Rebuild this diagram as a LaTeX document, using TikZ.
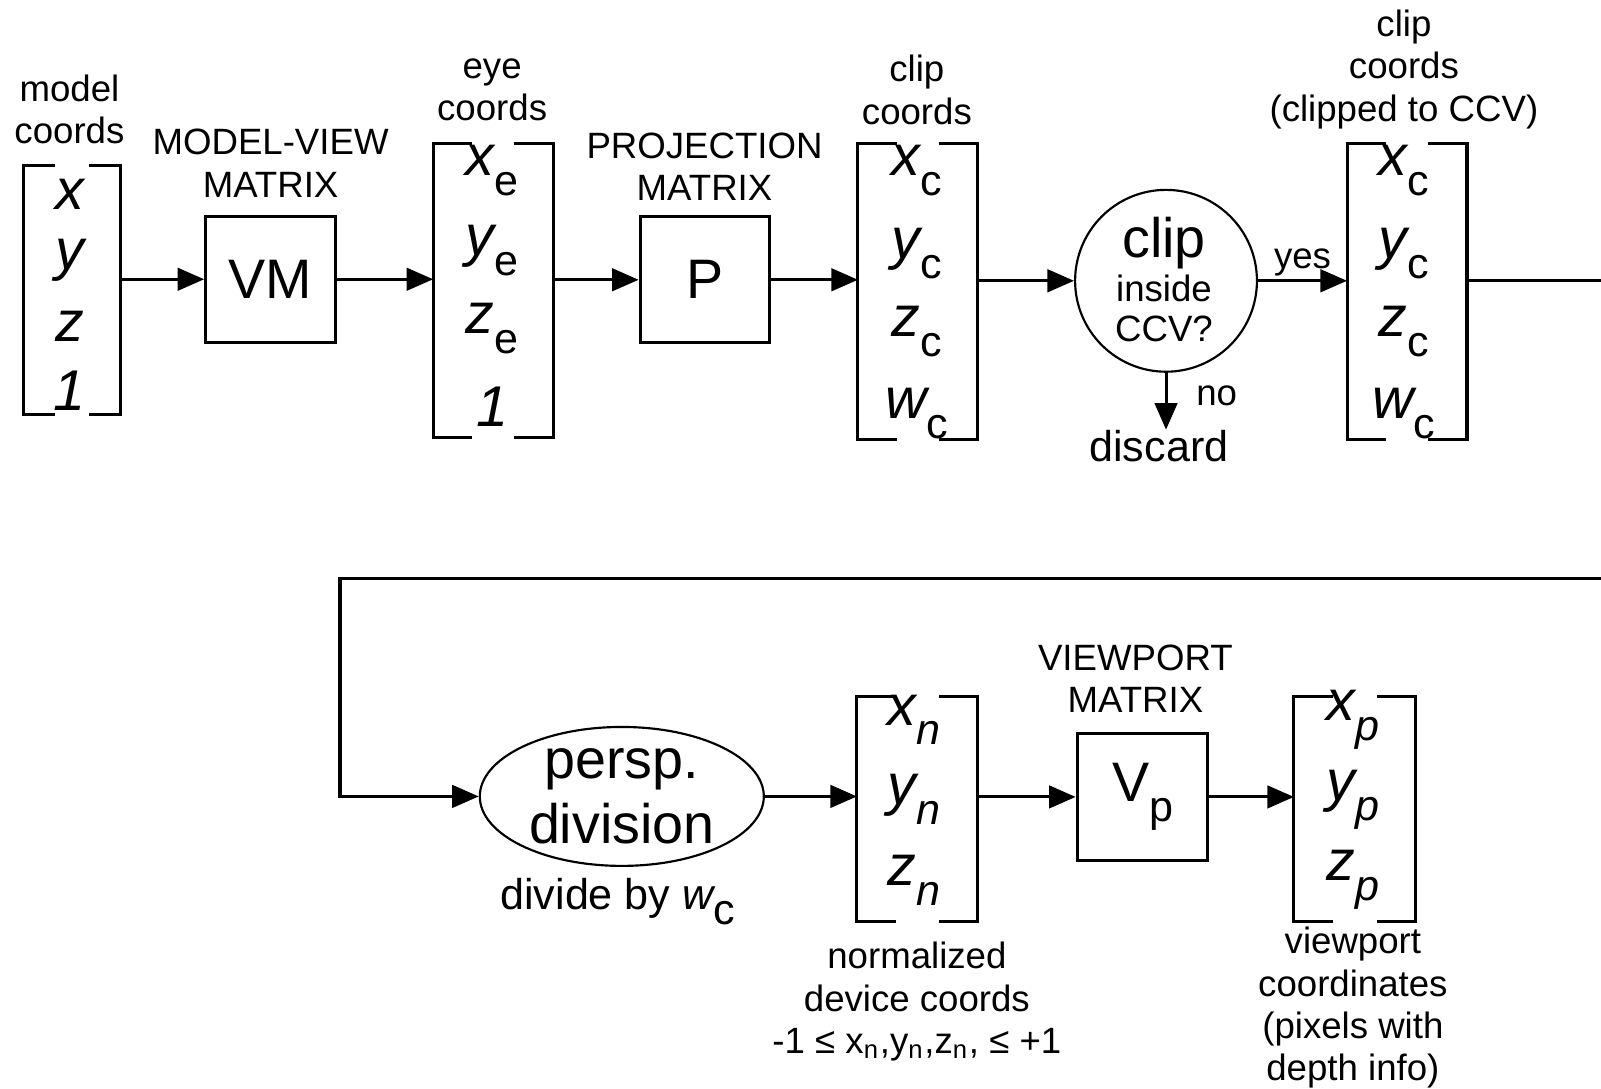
\documentclass[tikz,border=0pt]{standalone}
\usepackage{fontspec}
\setmainfont{Liberation Sans}
\usetikzlibrary{arrows.meta,shapes.geometric}

\newcommand{\lowsub}[1]{\raisebox{-5.5pt}{\fontsize{12}{12}\selectfont #1}}
\newcommand{\ent}[2]{{\itshape #1}\lowsub{#2}}

\begin{document}
\begin{tikzpicture}[x=0.01cm,y=-0.01cm,
  >={Triangle[length=0.26cm,width=0.22cm]},
  lbl/.style={font=\fontsize{10.2}{11.8}\selectfont,align=center,inner sep=0pt},
  big/.style={font=\fontsize{15.5}{18}\selectfont,align=center,inner sep=0pt},
  entry/.style={font=\fontsize{16}{18}\selectfont\itshape,inner sep=0pt},
  vec/.style={inner sep=0pt,minimum width=1.16cm},
  brk/.style={line width=0.85pt},
  mbox/.style={draw,line width=0.85pt,inner sep=0pt,minimum width=1.27cm,
    minimum height=1.23cm,font=\fontsize{15.5}{18}\selectfont},
  arr/.style={->,line width=0.85pt}]

  \useasboundingbox (0,0) rectangle (1568,1066);

  % top row
  \node[vec,minimum width=0.93cm,minimum height=2.42cm] (model) at (70.5,284) {};
  \node[entry] (mx) at (68,190) {x};
  \node[entry] (my) at (68,255) {y};
  \node[entry] (mz) at (68,320) {z};
  \node[entry] (mw) at (68,383) {1};
  \node[lbl] (lmodel) at (68,107) {model\\coords};

  \node[mbox] (vm) at (265,273.5) {VM};
  \node[lbl] (lvm) at (265,160) {MODEL-VIEW\\MATRIX};

  \node[vec,minimum height=2.87cm] (eye) at (483,284.5) {};
  \node[entry] (ex) at (482,167) {\ent{x}{\upshape e}};
  \node[entry] (ey) at (482,245) {\ent{y}{\upshape e}};
  \node[entry] (ez) at (482,322) {\ent{z}{\upshape e}};
  \node[entry] (ew) at (482,398) {1};
  \node[lbl] (leye) at (482,88) {eye\\coords};

  \node[mbox] (proj) at (690.5,274) {P};
  \node[lbl] (lproj) at (690,163) {PROJECTION\\MATRIX};

  \node[vec,minimum height=2.89cm] (clip) at (899,285.5) {};
  \node[entry] (cx) at (898,167) {\ent{x}{\upshape c}};
  \node[entry] (cy) at (898,248) {\ent{y}{\upshape c}};
  \node[entry] (cz) at (898,325) {\ent{z}{\upshape c}};
  \node[entry] (cw) at (898,405) {\ent{w}{\upshape c}};
  \node[lbl] (lclip) at (898,88) {clip\\coords};

  \node[circle,draw,line width=0.6pt,minimum size=1.78cm] (test) at (1142,275) {};
  \node[big] (tclip) at (1140,238) {clip};
  \node[lbl] (tinside) at (1140,282) {inside};
  \node[lbl] (tccv) at (1140,322) {CCV?};
  \node[font=\fontsize{12}{14}\selectfont,inner sep=0pt] (discard) at (1135,437) {discard};

  \node[vec,minimum height=2.89cm] (clipped) at (1378,285.5) {};
  \node[entry] (kx) at (1375,167) {\ent{x}{\upshape c}};
  \node[entry] (ky) at (1375,248) {\ent{y}{\upshape c}};
  \node[entry] (kz) at (1375,325) {\ent{z}{\upshape c}};
  \node[entry] (kw) at (1375,405) {\ent{w}{\upshape c}};
  \node[lbl] (lclipped) at (1375,68) {clip\\coords\\(clipped to CCV)};

  % bottom row
  \node[ellipse,draw,line width=0.6pt,minimum width=2.78cm,minimum height=1.36cm] (persp) at (609,780) {};
  \node[big] (tpersp) at (persp) {persp.\\division};
  \node[font=\fontsize{12}{14}\selectfont,inner sep=0pt] (divby) at (605,883)
    {divide by {\itshape w}\raisebox{-4pt}{c}};

  \node[vec,minimum width=1.17cm,minimum height=2.19cm] (ndc) at (898.5,792.5) {};
  \node[entry] (nx) at (895,705) {\ent{x}{n}};
  \node[entry] (ny) at (895,783) {\ent{y}{n}};
  \node[entry] (nz) at (895,862) {\ent{z}{n}};
  \node[lbl] (lndc) at (898,981) {normalized\\device coords\\-1 ≤ x\textsubscript{n},y\textsubscript{n},z\textsubscript{n}, ≤ +1};

  \node[mbox,minimum width=1.28cm,minimum height=1.25cm] (vp) at (1119,780.5) {V\lowsub{p}};
  \node[lbl] (lvp) at (1112,665) {VIEWPORT\\MATRIX};

  \node[vec,minimum width=1.18cm,minimum height=2.19cm] (vport) at (1327,792.5) {};
  \node[entry] (px) at (1325,705) {\ent{x}{p}};
  \node[entry] (py) at (1325,783) {\ent{y}{p}};
  \node[entry] (pz) at (1325,862) {\ent{z}{p}};
  \node[lbl] (lvport) at (1325,987) {viewport\\coordinates\\(pixels with\\depth info)};

  % brackets
  \foreach \v/\a in {model/31,eye/38,clip/38,clipped/38,ndc/38,vport/38} {
    \draw[brk] (\v.north west) ++(\a,0) -- (\v.north west) -- (\v.south west) -- ++(\a,0);
    \draw[brk] (\v.north east) ++(-\a,0) -- (\v.north east) -- (\v.south east) -- ++(-\a,0);
  }

  % connectors
  \coordinate (edge) at (1620,567);
  \coordinate (back) at (333,567);
  \draw[arr] (model.east |- vm.west) -- (vm.west);
  \draw[arr] (vm.east) -- (eye.west |- vm.east);
  \draw[arr] (eye.east |- proj.west) -- (proj.west);
  \draw[arr] (proj.east) -- (clip.west |- proj.east);
  \draw[arr] (clip.east |- test.west) -- (test.west);
  \draw[arr] (test.east) -- node[lbl,above=1pt] (yes) {yes} (clipped.west |- test.east);
  \draw[arr] (test.south) -- node[lbl,right=8pt,pos=0.4] (no) {no} (test.south |- discard.north);
  \draw[arr] (clipped.east |- test.east) -| (edge) -- (back) |- (persp.west);
  \draw[arr] (persp.east) -- (ndc.west |- persp.east);
  \draw[arr] (ndc.east |- vp.west) -- (vp.west);
  \draw[arr] (vp.east) -- (vport.west |- vp.east);
\end{tikzpicture}
\end{document}
